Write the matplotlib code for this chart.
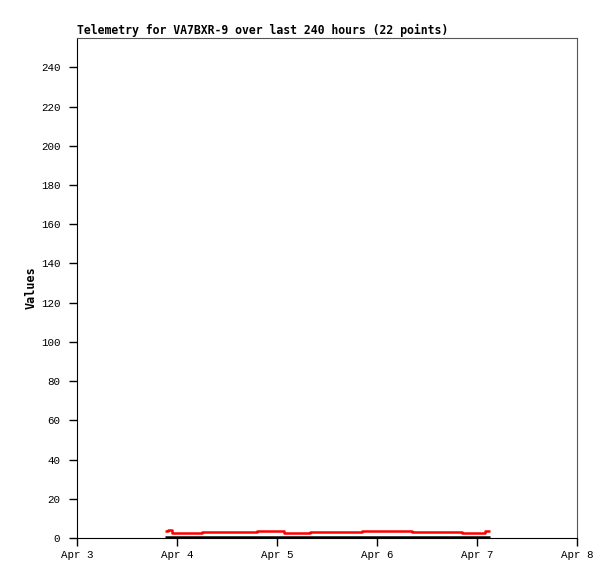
#!/usr/bin/env python3
import pandas as pd
import matplotlib
matplotlib.use("Agg")
import matplotlib.pyplot as plt
import matplotlib.dates as mdates

# --------------------------
# Data
# --------------------------
TITLE = "Telemetry for VA7BXR-9 over last 240 hours (22 points)"

times = [
    "2024-04-03 21:07", "2024-04-03 21:50", "2024-04-03 22:48", "2024-04-04 02:30",
    "2024-04-04 06:00", "2024-04-04 11:00", "2024-04-04 15:30", "2024-04-04 19:12",
    "2024-04-05 01:40", "2024-04-05 04:00", "2024-04-05 07:55", "2024-04-05 13:00",
    "2024-04-05 17:00", "2024-04-05 20:24", "2024-04-06 02:00", "2024-04-06 08:24",
    "2024-04-06 14:00", "2024-04-06 20:24", "2024-04-06 23:00", "2024-04-07 01:55",
    "2024-04-07 02:30", "2024-04-07 03:07",
]
values_red = [3.6, 3.9, 2.6, 2.6, 3.1, 3.1, 3.1, 3.6, 2.6, 2.6, 3.1,
              3.1, 3.1, 3.6, 3.6, 3.1, 3.1, 2.6, 2.6, 3.4, 3.7, 3.7]
values_black = [0.6] * 22

yticks = list(range(0, 241, 20))
x_start, x_end = "2024-04-03", "2024-04-08"

t = pd.to_datetime(times)

fig = plt.figure(figsize=(6.15, 5.79), dpi=100)
ax = fig.add_axes([77 / 615, 41 / 579, 500 / 615, 500 / 579])

ax.plot(t, values_black, color="black", lw=1.8, drawstyle="steps-post", solid_capstyle="butt")
ax.plot(t, values_red, color="#ff0000", lw=1.8, drawstyle="steps-post", solid_capstyle="butt")

ax.set_xlim(pd.Timestamp(x_start), pd.Timestamp(x_end))
ax.set_ylim(0, 255)
ax.set_yticks(yticks)
ax.xaxis.set_major_locator(mdates.DayLocator())
ax.xaxis.set_major_formatter(mdates.DateFormatter("%b %-d"))

for lbl in ax.get_xticklabels() + ax.get_yticklabels():
    lbl.set_fontfamily("Liberation Mono")
    lbl.set_fontsize(7.8)
ax.tick_params(direction="out", length=6, width=1, colors="black")
ax.tick_params(axis="y", pad=6)
ax.tick_params(axis="x", pad=3)

for side in ["left", "bottom"]:
    ax.spines[side].set_color("black")
for side in ["top", "right"]:
    ax.spines[side].set_color("#555555")

ax.set_ylabel("Values", family="DejaVu Sans Mono", fontweight="bold", fontsize=8.5)
ax.yaxis.set_label_coords(-0.078, 0.5)
fig.text(77 / 615, 1 - 34 / 579, TITLE, family="DejaVu Sans Mono", fontweight="bold",
         fontsize=8.3, ha="left", va="baseline")

plt.savefig("out.png", dpi=100)
